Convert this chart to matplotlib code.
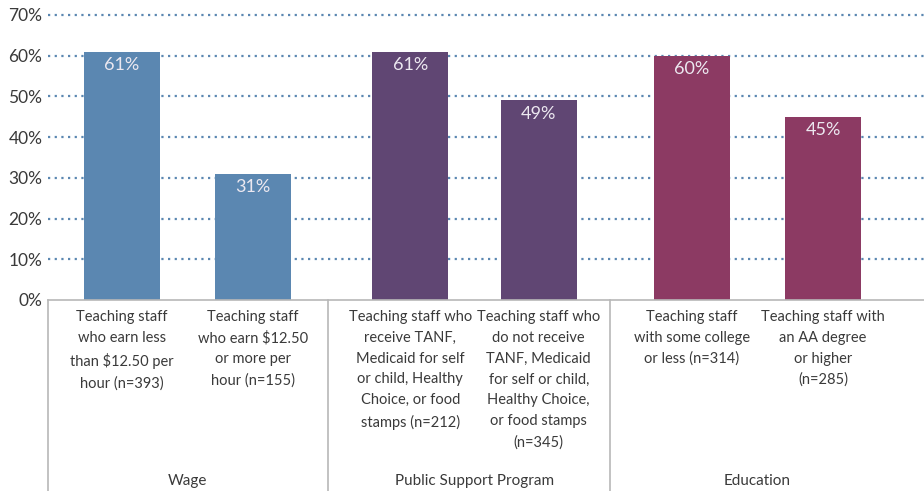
import matplotlib.pyplot as plt
import matplotlib.transforms as mtransforms

plt.rcParams['font.family'] = ['Lato', 'DejaVu Sans']

# data
labels = [
    "Teaching staff\nwho earn less\nthan $12.50 per\nhour (n=393)",
    "Teaching staff\nwho earn $12.50\nor more per\nhour (n=155)",
    "Teaching staff who\nreceive TANF,\nMedicaid for self\nor child, Healthy\nChoice, or food\nstamps (n=212)",
    "Teaching staff who\ndo not receive\nTANF, Medicaid\nfor self or child,\nHealthy Choice,\nor food stamps\n(n=345)",
    "Teaching staff\nwith some college\nor less (n=314)",
    "Teaching staff with\nan AA degree\nor higher\n(n=285)",
]
values = [61, 31, 61, 49, 60, 45]
groups = ["Wage", "Public Support Program", "Education"]
group_of = [0, 0, 1, 1, 2, 2]

colors = ["#5b87b1", "#604673", "#8c3a63"]
text_col = "#3a3a3a"
line_col = "#b8b8b8"

pos = [0, 1, 2.2, 3.18, 4.35, 5.35]
group_centers = [0.5, 2.69, 4.85]
separators = [-0.565, 1.573, 3.725]

fig = plt.figure(figsize=(9.24, 4.91), dpi=100)
ax = fig.add_axes([48 / 924, 191 / 491, 876 / 924, 285 / 491])

ax.set_xlim(-0.565, 6.12)
ax.set_ylim(0, 70)

for y in range(10, 80, 10):
    ax.axhline(y, color="#5b87b1", linestyle=(0, (1, 2)), linewidth=1.6, zorder=0,
               clip_on=False)

bars = ax.bar(pos, values, width=0.58, color=[colors[g] for g in group_of], zorder=2)
for p, v in zip(pos, values):
    ax.text(p, v - 1.3, f"{v}%", ha="center", va="top", color="#ece8f0",
            fontsize=13, zorder=3)

ax.set_yticks(range(0, 80, 10))
ax.set_yticklabels([f"{y}%" for y in range(0, 80, 10)], fontsize=12.5, color=text_col)
ax.tick_params(axis="y", length=0, pad=4)
ax.set_xticks([])
for s in ["top", "right", "left"]:
    ax.spines[s].set_visible(False)
ax.spines["bottom"].set_color(line_col)
ax.spines["bottom"].set_linewidth(1.2)

trans = mtransforms.blended_transform_factory(ax.transData, ax.transAxes)
for sx in separators:
    ax.plot([sx, sx], [0, -0.68], transform=trans, color=line_col, linewidth=1.2,
            clip_on=False)

for p, lab in zip(pos, labels):
    ax.text(p, -0.035, lab, transform=trans, ha="center", va="top", fontsize=10.5,
            color=text_col, linespacing=1.62)

for c, g in zip(group_centers, groups):
    ax.text(c, -0.635, g, transform=trans, ha="center", va="center", fontsize=11,
            color=text_col)

fig.savefig("out.png", dpi=100)
